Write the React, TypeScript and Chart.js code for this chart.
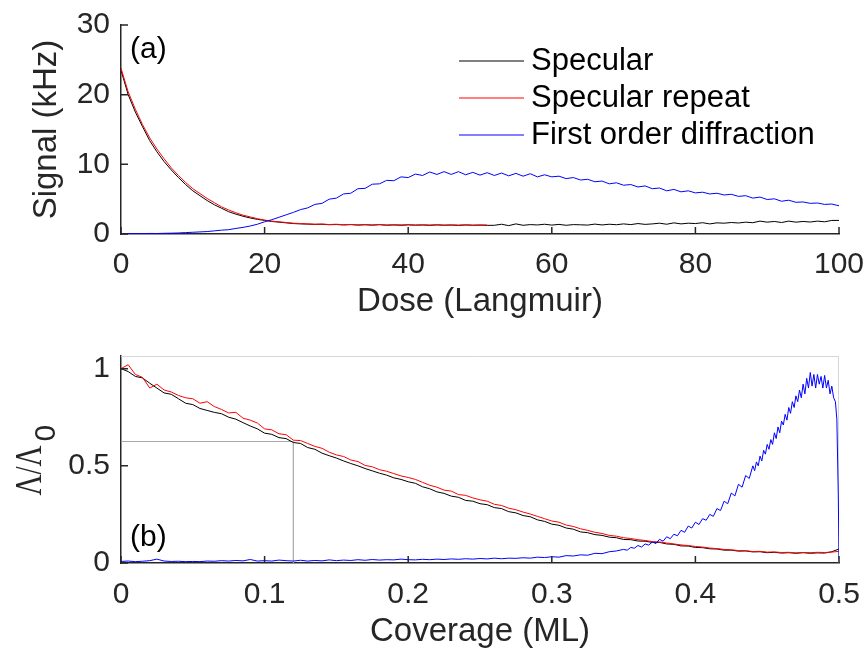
import React, { useEffect, useRef } from "react";
import { Chart, registerables } from "chart.js";
Chart.register(...registerables);

const FONT = '"Liberation Sans", Arial, sans-serif';
const AXIS = "#262626";

// ---------- Panel (a): signal vs dose ----------
const doseStep = 1;
const doseTicks = [0, 20, 40, 60, 80, 100];
const signalTicks = [0, 10, 20, 30];
const seriesNames = ["Specular", "Specular repeat", "First order diffraction"];
const seriesColors = ["#000000", "#ff0000", "#0000ff"];

const specularDose = [
  23.5, 20.0, 17.5, 15.4, 13.4, 11.8, 10.4, 9.2, 8.1, 7.1,
  6.2, 5.5, 4.8, 4.2, 3.7, 3.2, 2.85, 2.55, 2.3, 2.1,
  1.95, 1.8, 1.7, 1.6, 1.5, 1.45, 1.42, 1.38, 1.4, 1.33,
  1.36, 1.3, 1.35, 1.28, 1.32, 1.27, 1.34, 1.26, 1.3, 1.25,
  1.31, 1.27, 1.29, 1.24, 1.3, 1.26, 1.28, 1.23, 1.29, 1.25,
  1.27, 1.24, 1.25, 1.4, 1.2, 1.45, 1.25, 1.35, 1.3, 1.4,
  1.28, 1.38, 1.25, 1.35, 1.32, 1.28, 1.42, 1.3, 1.4, 1.33,
  1.45, 1.35, 1.5, 1.38, 1.45, 1.55, 1.4, 1.6, 1.45, 1.55,
  1.5, 1.62, 1.45, 1.6, 1.55, 1.65, 1.58, 1.7, 1.62, 1.85,
  1.7, 1.8, 1.65, 1.85, 1.7, 1.8, 1.72, 1.85, 1.75, 1.95,
  1.95,
];
const repeatDose = [
  23.8, 20.4, 17.9, 15.7, 13.8, 12.2, 10.8, 9.5, 8.4, 7.4,
  6.5, 5.8, 5.1, 4.5, 3.9, 3.45, 3.05, 2.7, 2.45, 2.2,
  2.0, 1.85, 1.75, 1.65, 1.55, 1.5, 1.45, 1.4, 1.43, 1.36,
  1.4, 1.33, 1.37, 1.31, 1.36, 1.3, 1.35, 1.29, 1.33, 1.3,
  1.34, 1.28, 1.32, 1.29, 1.33, 1.27, 1.31, 1.28, 1.32, 1.27,
  1.3, 1.29,
];
const diffractionDose = [
  0.05, 0.05, 0.06, 0.05, 0.08, 0.07, 0.1, 0.12, 0.15, 0.2,
  0.25, 0.3, 0.35, 0.45, 0.55, 0.62, 0.8, 0.95, 1.15, 1.4,
  1.75, 2.05, 2.4, 2.75, 3.1, 3.5, 3.75, 4.25, 4.4, 5.0,
  5.15, 5.75, 5.85, 6.5, 6.55, 7.15, 7.2, 7.7, 7.65, 8.2,
  8.1, 8.6, 8.4, 8.9, 8.55, 8.95, 8.55, 8.95, 8.5, 8.85,
  8.45, 8.8, 8.4, 8.75, 8.35, 8.7, 8.3, 8.65, 8.2, 8.5,
  8.2, 8.3, 7.95, 8.1, 7.75, 7.85, 7.5, 7.6, 7.2, 7.35,
  7.0, 7.1, 6.75, 6.9, 6.5, 6.6, 6.2, 6.4, 6.05, 6.2,
  5.9, 6.0, 5.75, 5.85, 5.6, 5.7, 5.4, 5.5, 5.15, 5.3,
  4.95, 5.05, 4.7, 4.85, 4.55, 4.6, 4.4, 4.45, 4.25, 4.3,
  4.05,
];

// ---------- Panel (b): normalised signal vs coverage ----------
const coverageTicks = [0, 0.1, 0.2, 0.3, 0.4, 0.5];
const ratioTicks = [0, 0.5, 1];
const coverageStep = 0.005;
const specularCov = [
  1.0, 0.985, 0.96, 0.952, 0.925, 0.9, 0.875, 0.868, 0.845, 0.822,
  0.815, 0.795, 0.785, 0.775, 0.768, 0.75, 0.74, 0.722, 0.705, 0.69,
  0.668, 0.662, 0.645, 0.64, 0.62, 0.615, 0.594, 0.585, 0.565, 0.552,
  0.54, 0.525, 0.512, 0.5, 0.486, 0.474, 0.462, 0.452, 0.438, 0.43,
  0.418, 0.41, 0.392, 0.382, 0.366, 0.358, 0.344, 0.338, 0.322, 0.318,
  0.305, 0.3, 0.285, 0.28, 0.264, 0.258, 0.244, 0.238, 0.222, 0.214,
  0.2, 0.194, 0.18, 0.174, 0.16, 0.156, 0.146, 0.142, 0.133, 0.13,
  0.121, 0.12, 0.113, 0.112, 0.106, 0.106, 0.098, 0.096, 0.088, 0.087,
  0.08, 0.079, 0.073, 0.072, 0.066, 0.066, 0.061, 0.062, 0.057, 0.058,
  0.053, 0.055, 0.051, 0.053, 0.05, 0.053, 0.05, 0.052, 0.051, 0.058,
  0.072,
];
const repeatCov = [
  1.0, 1.02, 0.97, 0.955, 0.9, 0.92, 0.89, 0.88, 0.862, 0.85,
  0.845, 0.822, 0.83, 0.805, 0.79, 0.772, 0.775, 0.745, 0.735, 0.72,
  0.69, 0.685, 0.665, 0.66, 0.632, 0.63, 0.615, 0.6, 0.59, 0.57,
  0.556, 0.548, 0.53, 0.522, 0.502, 0.495, 0.48, 0.472, 0.46, 0.448,
  0.44, 0.43, 0.415, 0.4, 0.39, 0.375, 0.37, 0.352, 0.348, 0.335,
  0.325, 0.318, 0.302, 0.296, 0.282, 0.274, 0.262, 0.252, 0.24, 0.228,
  0.216, 0.21, 0.195, 0.188, 0.176, 0.168, 0.158, 0.152, 0.142, 0.138,
  0.13, 0.126, 0.12, 0.116, 0.11, 0.108, 0.103, 0.098, 0.093, 0.09,
  0.085, 0.082, 0.077, 0.074, 0.07, 0.068, 0.064, 0.063, 0.059, 0.06,
  0.056, 0.057, 0.054, 0.055, 0.052, 0.054, 0.053, 0.055, 0.054, 0.056,
  0.06,
];
// diffraction: coarse part 0 .. 0.345 (step 0.005)
const diffCovCoarse = [
  0.008, 0.01, 0.007, 0.009, 0.012, 0.02, 0.01, 0.008, 0.009, 0.007,
  0.008, 0.007, 0.01, 0.009, 0.012, 0.01, 0.013, 0.011, 0.018, 0.01,
  0.012, 0.01, 0.015, 0.012, 0.01, 0.014, 0.01, 0.013, 0.011, 0.016,
  0.012, 0.015, 0.013, 0.017, 0.014, 0.018, 0.015, 0.017, 0.016, 0.02,
  0.017, 0.016, 0.019, 0.017, 0.02, 0.018, 0.021, 0.019, 0.022, 0.02,
  0.023, 0.021, 0.025, 0.022, 0.025, 0.024, 0.027, 0.025, 0.03, 0.028,
  0.032, 0.03, 0.038, 0.036, 0.042, 0.04, 0.05, 0.048, 0.058, 0.062,
];
// diffraction: rise 0.35 .. 0.4375 (step 0.0025)
const diffRiseStart = 0.35;
const diffRiseStep = 0.0025;
const diffCovRise = [
  0.07, 0.066, 0.08, 0.076, 0.09, 0.082, 0.098, 0.092, 0.108, 0.1,
  0.122, 0.112, 0.135, 0.125, 0.148, 0.14, 0.168, 0.158, 0.19, 0.18,
  0.21, 0.198, 0.228, 0.22, 0.25, 0.24, 0.28, 0.27, 0.318, 0.305,
  0.36, 0.345, 0.405, 0.39, 0.45, 0.435,
];
// diffraction: peak 0.44 .. 0.4975 (step 0.00125)
const diffPeakStart = 0.44;
const diffPeakStep = 0.00125;
const diffCovPeak = [
  0.5, 0.475, 0.52, 0.5, 0.55, 0.525, 0.58, 0.56, 0.61, 0.585,
  0.635, 0.61, 0.67, 0.64, 0.7, 0.67, 0.73, 0.71, 0.765, 0.735,
  0.8, 0.77, 0.83, 0.8, 0.86, 0.83, 0.89, 0.85, 0.92, 0.87,
  0.95, 0.9, 0.98, 0.91, 0.97, 0.9, 0.97, 0.92, 0.96, 0.9,
  0.965, 0.9, 0.94, 0.87, 0.91, 0.85, 0.83,
];
const diffTailCoverage = [0.4985, 0.4995, 0.5];
const diffTail = [0.74, 0.35, 0.02];
const guideCoverage = [0, 0.12, 0.12];
const guideRatio = [0.625, 0.625, 0];

const pts = (vals: number[], start: number, step: number) =>
  vals.map((v, i) => ({ x: start + i * step, y: v }));

const innerTicks = {
  id: "innerTicks",
  afterDraw(chart: any) {
    const { ctx, chartArea: a, scales } = chart;
    ctx.save();
    ctx.strokeStyle = AXIS;
    ctx.lineWidth = 1.5;
    const len = 7;
    ctx.beginPath();
    scales.x.ticks.forEach((t: any) => {
      const px = scales.x.getPixelForValue(t.value);
      ctx.moveTo(px, a.bottom);
      ctx.lineTo(px, a.bottom - len);
    });
    scales.y.ticks.forEach((t: any) => {
      const py = scales.y.getPixelForValue(t.value);
      ctx.moveTo(a.left, py);
      ctx.lineTo(a.left + len, py);
    });
    ctx.stroke();
    ctx.restore();
  },
};

function panelLabel(text: string, fromTop: boolean) {
  return {
    id: "panelLabel" + text,
    afterDraw(chart: any) {
      const { ctx, chartArea: a } = chart;
      ctx.save();
      ctx.font = `30px ${FONT}`;
      ctx.fillStyle = "#000";
      ctx.textAlign = "left";
      ctx.textBaseline = "middle";
      ctx.fillText(text, a.left + 9, fromTop ? a.top + 25 : a.bottom - 25);
      ctx.restore();
    },
  };
}

const legendPlugin = {
  id: "customLegend",
  afterDraw(chart: any) {
    const { ctx, chartArea: a } = chart;
    ctx.save();
    ctx.font = `31px ${FONT}`;
    ctx.textAlign = "left";
    ctx.textBaseline = "middle";
    seriesNames.forEach((name, i) => {
      const y = a.top + 36 + i * 37;
      ctx.strokeStyle = seriesColors[i];
      ctx.lineWidth = 1;
      ctx.beginPath();
      ctx.moveTo(a.left + 338, y);
      ctx.lineTo(a.left + 403, y);
      ctx.stroke();
      ctx.fillStyle = "#000";
      ctx.fillText(name, a.left + 410, y);
    });
    ctx.restore();
  },
};

const boxPlugin = {
  id: "lightBox",
  beforeDatasetsDraw(chart: any) {
    const { ctx, chartArea: a } = chart;
    ctx.save();
    ctx.strokeStyle = "#d6d6d6";
    ctx.lineWidth = 1;
    ctx.beginPath();
    ctx.moveTo(a.left, a.top + 0.5);
    ctx.lineTo(a.right - 0.5, a.top + 0.5);
    ctx.lineTo(a.right - 0.5, a.bottom);
    ctx.stroke();
    ctx.restore();
  },
};

const ratioTitle = {
  id: "ratioTitle",
  afterDraw(chart: any) {
    const { ctx, chartArea: a } = chart;
    const cy = (a.top + a.bottom) / 2;
    ctx.save();
    ctx.translate(41, cy + 36);
    ctx.rotate(-Math.PI / 2);
    ctx.fillStyle = AXIS;
    ctx.textAlign = "left";
    ctx.textBaseline = "alphabetic";
    ctx.font = `38px "Liberation Serif", "Times New Roman", serif`;
    const main = "Λ/Λ";
    const sx = 0.76;
    const w = ctx.measureText(main).width * sx;
    ctx.save();
    ctx.scale(sx, 1);
    ctx.fillText(main, 0, 0);
    ctx.restore();
    ctx.font = `30px ${FONT}`;
    ctx.fillText("0", w + 4, 14);
    ctx.restore();
  },
};

function axisCommon(tickList: number[], tickPad: number) {
  return {
    type: "linear" as const,
    grid: { display: false, drawTicks: false },
    border: { display: true, color: AXIS, width: 1.5 },
    afterBuildTicks: (s: any) => {
      s.ticks = tickList.map((v) => ({ value: v }));
    },
    ticks: {
      font: { family: FONT, size: 30 },
      color: AXIS,
      padding: tickPad,
      maxRotation: 0,
      autoSkip: false,
      callback: (v: any) => String(v),
    },
  };
}

const zeroPad = (s: any) => {
  s.paddingLeft = 0;
  s.paddingRight = 0;
  s.paddingTop = 0;
  s.paddingBottom = 0;
};

export default function App() {
  const topRef = useRef<HTMLCanvasElement>(null);
  const botRef = useRef<HTMLCanvasElement>(null);

  useEffect(() => {
    const top = new Chart(topRef.current as HTMLCanvasElement, {
      type: "line",
      data: {
        datasets: [
          { label: seriesNames[2], data: pts(diffractionDose, 0, doseStep), borderColor: seriesColors[2], order: 1 },
          { label: seriesNames[1], data: pts(repeatDose, 0, doseStep), borderColor: seriesColors[1], order: 2 },
          { label: seriesNames[0], data: pts(specularDose, 0, doseStep), borderColor: seriesColors[0], order: 3 },
        ],
      },
      options: {
        animation: false,
        responsive: false,
        maintainAspectRatio: false,
        layout: { padding: { left: 0, right: 28, top: 25, bottom: 0 } },
        elements: { point: { radius: 0 }, line: { borderWidth: 1, tension: 0 } },
        plugins: { legend: { display: false }, tooltip: { enabled: false } },
        scales: {
          x: {
            ...axisCommon(doseTicks, 13),
            min: 0,
            max: 100,
            afterFit: (s: any) => {
              s.height = 96;
              zeroPad(s);
            },
            title: {
              display: true,
              text: "Dose (Langmuir)",
              color: AXIS,
              font: { family: FONT, size: 33 },
              padding: { top: 0, bottom: 8 },
            },
          },
          y: {
            ...axisCommon(signalTicks, 11),
            min: 0,
            max: 30,
            afterFit: (s: any) => {
              s.width = 121;
              zeroPad(s);
            },
            title: {
              display: true,
              text: "Signal (kHz)",
              color: AXIS,
              font: { family: FONT, size: 33 },
              padding: { top: 27, bottom: 0 },
            },
          },
        },
      } as any,
      plugins: [innerTicks, panelLabel("(a)", true), legendPlugin],
    });

    const diffData = [
      ...pts(diffCovCoarse, 0, coverageStep),
      ...pts(diffCovRise, diffRiseStart, diffRiseStep),
      ...pts(diffCovPeak, diffPeakStart, diffPeakStep),
      ...diffTail.map((v, i) => ({ x: diffTailCoverage[i], y: v })),
    ];

    const bot = new Chart(botRef.current as HTMLCanvasElement, {
      type: "line",
      data: {
        datasets: [
          { label: seriesNames[2], data: diffData, borderColor: seriesColors[2], order: 1 },
          { label: seriesNames[1], data: pts(repeatCov, 0, coverageStep), borderColor: seriesColors[1], order: 2 },
          { label: seriesNames[0], data: pts(specularCov, 0, coverageStep), borderColor: seriesColors[0], order: 3 },
          {
            label: "guide",
            data: guideRatio.map((v, i) => ({ x: guideCoverage[i], y: v })),
            borderColor: "#a8a8a8",
            borderWidth: 1.2,
            order: 4,
          },
        ],
      },
      options: {
        animation: false,
        responsive: false,
        maintainAspectRatio: false,
        layout: { padding: { left: 0, right: 28, top: 26, bottom: 0 } },
        elements: { point: { radius: 0 }, line: { borderWidth: 1, tension: 0 } },
        plugins: { legend: { display: false }, tooltip: { enabled: false } },
        scales: {
          x: {
            ...axisCommon(coverageTicks, 14),
            min: 0,
            max: 0.5,
            afterFit: (s: any) => {
              s.height = 89;
              zeroPad(s);
            },
            title: {
              display: true,
              text: "Coverage (ML)",
              color: AXIS,
              font: { family: FONT, size: 33 },
              padding: { top: 0, bottom: 0 },
            },
          },
          y: {
            ...axisCommon(ratioTicks, 11),
            min: 0,
            max: 1.065,
            afterFit: (s: any) => {
              s.width = 121;
              zeroPad(s);
            },
          },
        },
      } as any,
      plugins: [boxPlugin, innerTicks, panelLabel("(b)", false), ratioTitle],
    });

    return () => {
      top.destroy();
      bot.destroy();
    };
  }, []);

  return (
    <div style={{ position: "absolute", left: 0, top: 0, width: 867, height: 652, background: "#fff" }}>
      <canvas ref={topRef} width={867} height={330} style={{ display: "block" }} />
      <canvas ref={botRef} width={867} height={322} style={{ display: "block" }} />
    </div>
  );
}
